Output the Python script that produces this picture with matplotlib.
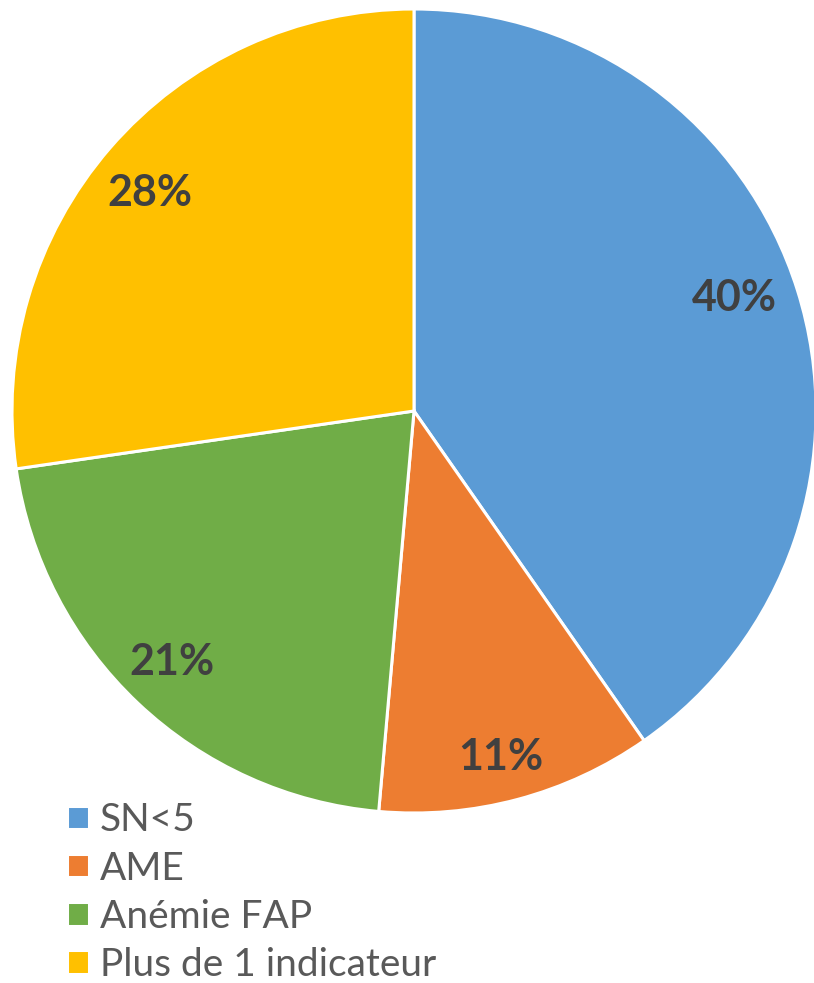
import numpy as np
import matplotlib.pyplot as plt

categories = ['SN<5', 'AME', 'Anémie FAP', 'Plus de 1 indicateur']
# slice sizes as measured from the wedge angles; labels as printed on the chart
values = [40.3, 11.1, 21.3, 27.3]
pct_labels = ['40%', '11%', '21%', '28%']
colors = ['#5B9BD5', '#ED7D31', '#70AD47', '#FFC000']
# Excel "best fit" placement: radius fraction and small angle nudge (deg)
label_dist = [0.846, 0.887, 0.868, 0.851]
label_nudge = [1.9, -0.9, -0.6, 1.3]

W, H = 814, 983
fig = plt.figure(figsize=(W / 100, H / 100), dpi=100)

# pie centre (414, 411) px, radius 402 px
cx, cy, r = 414, 411, 402
ax = fig.add_axes([(cx - r) / W, (H - cy - r) / H, 2 * r / W, 2 * r / H])

wedges, texts = ax.pie(
    values, colors=colors, startangle=90, counterclock=False, radius=1,
    labels=pct_labels, labeldistance=1.0,
    wedgeprops=dict(edgecolor='white', linewidth=2.2),
    textprops=dict(fontsize=31, fontweight='bold', color='#404040', family='Lato'))
for w, t, d, n in zip(wedges, texts, label_dist, label_nudge):
    ang = np.deg2rad((w.theta1 + w.theta2) / 2 + n)
    t.set_position((d * np.cos(ang), d * np.sin(ang)))
    t.set_horizontalalignment('center')
    t.set_verticalalignment('center')
ax.set_xlim(-1, 1)
ax.set_ylim(-1, 1)
ax.set_aspect('equal')

leg = fig.legend(wedges, categories, loc='upper left',
                 bbox_to_anchor=(48 / W, 1 - 783 / H), frameon=False,
                 prop=dict(family='Lato', size=28),
                 handlelength=0.55, handleheight=0.55, handletextpad=0.28,
                 labelspacing=0.31, borderpad=0)
for t in leg.get_texts():
    t.set_color('#595959')

fig.savefig('out.png', dpi=100)
